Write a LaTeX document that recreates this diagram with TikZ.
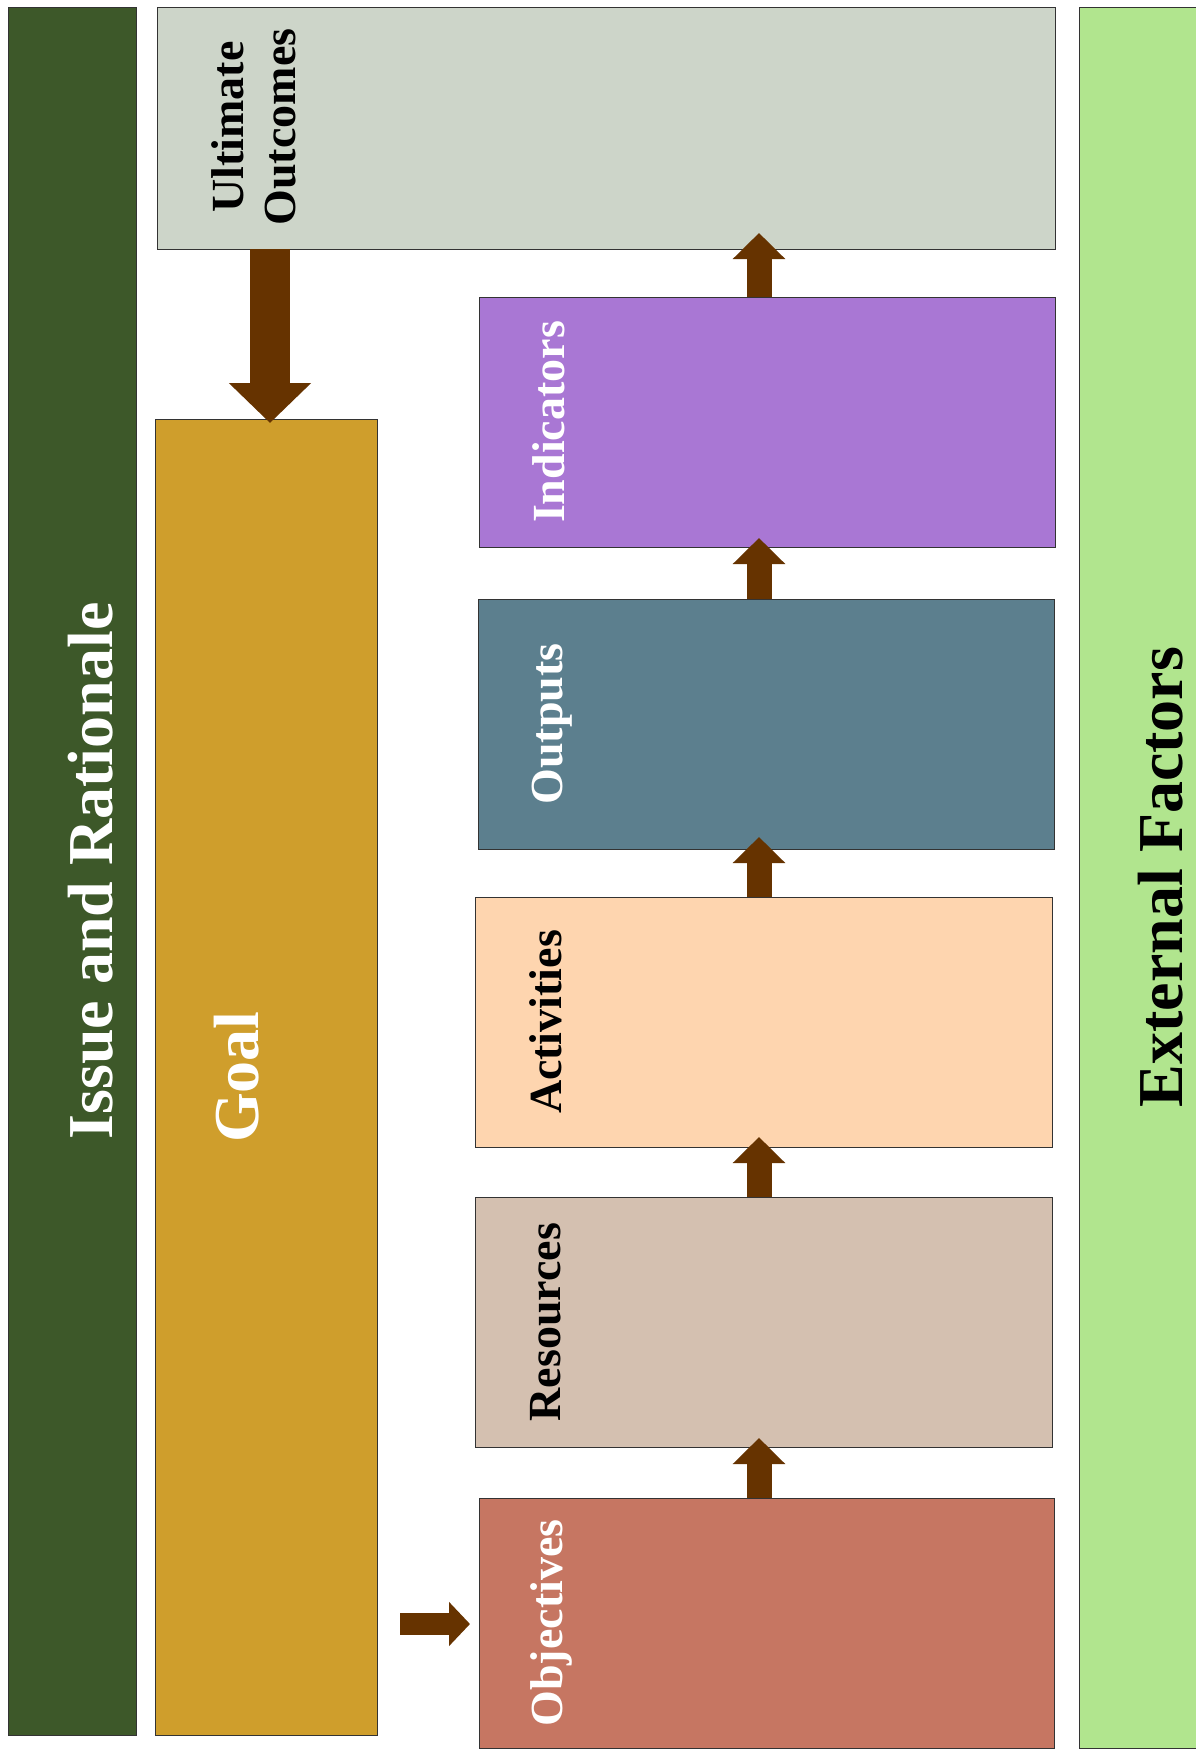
\documentclass[tikz,border=0pt]{standalone}
\usepackage{fontspec}
\setmainfont{Liberation Serif}
\usetikzlibrary{arrows.meta}
\definecolor{issuegreen}{RGB}{61,88,41}
\definecolor{ultgray}{RGB}{205,213,201}
\definecolor{goalgold}{RGB}{207,158,44}
\definecolor{indpurple}{RGB}{169,119,212}
\definecolor{outblue}{RGB}{92,127,142}
\definecolor{actpeach}{RGB}{254,213,175}
\definecolor{restan}{RGB}{212,192,176}
\definecolor{objred}{RGB}{198,118,98}
\definecolor{extgreen}{RGB}{177,229,142}
\definecolor{arrowbrown}{RGB}{102,51,0}
\begin{document}
\begin{tikzpicture}[x=1pt,y=-1pt,
  box/.style={draw=black!80, line width=0.9pt, inner sep=0pt, outer sep=0pt, anchor=north west},
  lbl/.style={rotate=90, anchor=base, inner sep=0pt, font=\bfseries\fontsize{46}{52}\selectfont},
  biglbl/.style={rotate=90, anchor=base, inner sep=0pt, font=\bfseries\fontsize{64}{72}\selectfont},
  uarrow/.style={draw=arrowbrown, line width=25pt, -{Triangle[length=26pt,width=51pt]}},
  darrow/.style={draw=arrowbrown, line width=40pt, -{Triangle[length=40pt,width=80pt]}},
  rarrow/.style={draw=arrowbrown, line width=22pt, -{Triangle[length=21pt,width=43pt]}}]
\useasboundingbox (0,0) rectangle (1195,1756);
\fill[white] (0,0) rectangle (1195,1756);

% boxes
\node[box, fill=issuegreen, minimum width=128pt, minimum height=1728pt] (issue) at (8,7) {};
\node[box, fill=ultgray, minimum width=898pt, minimum height=242pt] (ult) at (157,7) {};
\node[box, fill=goalgold, minimum width=222pt, minimum height=1316pt] (goal) at (155,419) {};
\node[box, fill=indpurple, minimum width=576pt, minimum height=250pt] (ind) at (479,297) {};
\node[box, fill=outblue, minimum width=576pt, minimum height=250pt] (out) at (478,599) {};
\node[box, fill=actpeach, minimum width=577pt, minimum height=250pt] (act) at (475,897) {};
\node[box, fill=restan, minimum width=577pt, minimum height=250pt] (res) at (475,1197) {};
\node[box, fill=objred, minimum width=575pt, minimum height=250pt] (obj) at (479,1498) {};
\node[box, fill=extgreen, minimum width=125pt, minimum height=1741pt] (ext) at (1079,7) {};

% labels
\node[biglbl, text=white] (issue-t) at (112,871) {Issue and Rationale};
\node[lbl, text=black] (ult-t1) at (243,127) {Ultimate};
\node[lbl, text=black] (ult-t2) at (295,127) {Outcomes};
\node[biglbl, text=white] (goal-t) at (258,1077) {Goal};
\node[lbl, text=white] (ind-t) at (564,422) {Indicators};
\node[lbl, text=white] (out-t) at (562,724) {Outputs};
\node[lbl, text=black] (act-t) at (561,1022) {Activities};
\node[lbl, text=black] (res-t) at (560,1322) {Resources};
\node[lbl, text=white] (obj-t) at (562,1623) {Objectives};
\node[biglbl, text=black] (ext-t) at (1182,877) {External Factors};

% arrows
\coordinate (ax) at (759,0);
\coordinate (dx) at (270,0);
\coordinate (rs) at (400,1624);
\draw[uarrow] (ind.north -| ax) -- ([yshift=16pt]ult.south -| ax);
\draw[uarrow] (out.north -| ax) -- ([yshift=9pt]ind.south -| ax);
\draw[uarrow] (act.north -| ax) -- ([yshift=12pt]out.south -| ax);
\draw[uarrow] (res.north -| ax) -- ([yshift=10pt]act.south -| ax);
\draw[uarrow] (obj.north -| ax) -- ([yshift=9pt]res.south -| ax);
\draw[darrow] (ult.south -| dx) -- ([yshift=-4pt]goal.north -| dx);
\draw[rarrow] (rs) -- ([xshift=-9pt]obj.west |- rs);
\end{tikzpicture}
\end{document}
